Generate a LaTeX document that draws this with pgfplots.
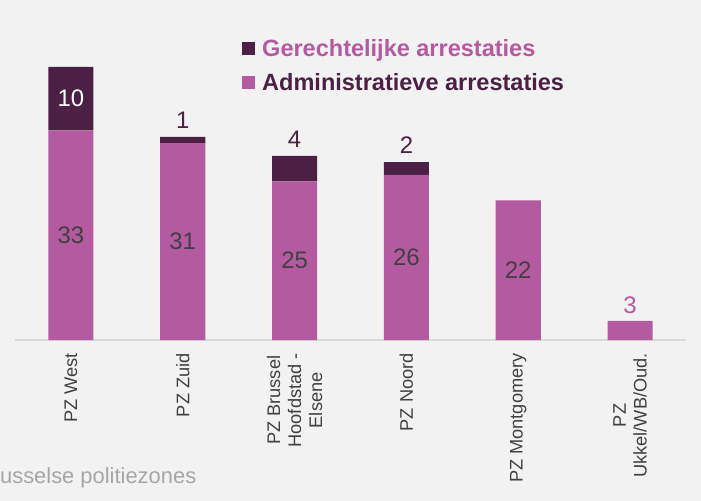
\documentclass[border=0pt]{standalone}
\usepackage{pgfplots}
\pgfplotsset{compat=1.18}
\usepackage{pgfplotstable}
\usepackage{fontspec}
\setmainfont{Liberation Sans}

\definecolor{adm}{RGB}{180,90,160}
\definecolor{ger}{RGB}{75,32,68}
\definecolor{bg}{RGB}{242,242,242}
\definecolor{lbl}{RGB}{64,64,64}
\definecolor{axisgray}{RGB}{217,217,217}
\definecolor{titlegray}{RGB}{166,166,166}

% arrestaties per politiezone
\pgfplotstableread{
x adm ger
0 33 10
1 31 1
2 25 4
3 26 2
4 22 0
5 3 0
}\arrdata

\pgfplotsset{base/.style={scale only axis, width=671bp, height=317.5bp,
    xmin=-0.5, xmax=5.5, ymin=0, ymax=50}}

\begin{document}
\begin{tikzpicture}
\fill[bg] (-15bp,-161bp) rectangle (686bp,340bp);
\begin{axis}[base,
    ybar stacked, bar width=45bp,
    axis y line=none, axis x line=bottom,
    x axis line style={-, draw=axisgray, line width=2bp},
    ytick=\empty,
    xtick={0,1,2,3,4,5},
    xticklabels={PZ West, PZ Zuid, {PZ Brussel\\Hoofdstad -\\Elsene}, PZ Noord, PZ Montgomery, {PZ\\Ukkel/WB/Oud.}},
    major tick length=0pt,
    xticklabel style={yshift=-13bp, rotate=90, anchor=east, align=center, inner sep=0pt,
        font=\fontsize{18.3}{21}\selectfont, text=lbl},
    reverse legend,
    legend cell align=left,
    legend image code/.code={\fill[#1] (0bp,-4.25bp) rectangle (13bp,8.75bp);},
    legend style={at={(rel axis cs:0.3379,0.9465)}, anchor=north west,
        draw=none, fill=none, inner sep=0pt, outer sep=0pt,
        font=\fontsize{23.6}{27}\selectfont\bfseries,
        row sep=12.5bp,
        nodes={inner sep=0pt, text height=17bp, text depth=5bp},
        /tikz/every odd column/.append style={column sep=7.5bp}},
]
\addplot[fill=adm, draw=none] table[x=x, y=adm] {\arrdata};
\addplot[fill=ger, draw=none] table[x=x, y=ger] {\arrdata};
\legend{\textcolor{ger}{Administratieve arrestaties}, \textcolor{adm}{Gerechtelijke arrestaties}}
\end{axis}

% data labels
\begin{axis}[base, hide axis,
    point meta=explicit symbolic, nodes near coords,
    every node near coord/.append style={font=\fontsize{24}{24}\selectfont, inner sep=0pt}]
\addplot[only marks, mark=none, skip coords between index={5}{6},
    every node near coord/.append style={text=lbl, anchor=center}]
    table[x=x, y expr=\thisrow{adm}/2, meta=adm] {\arrdata};
\addplot[only marks, mark=none, skip coords between index={1}{6},
    every node near coord/.append style={text=white, anchor=center}]
    table[x=x, y expr=\thisrow{adm}+\thisrow{ger}/2, meta=ger] {\arrdata};
\addplot[only marks, mark=none, skip coords between index={0}{1}, skip coords between index={4}{6},
    every node near coord/.append style={text=ger, anchor=base, yshift=8.5bp}]
    table[x=x, y expr=\thisrow{adm}+\thisrow{ger}, meta=ger] {\arrdata};
\addplot[only marks, mark=none, skip coords between index={0}{5},
    every node near coord/.append style={text=adm, anchor=base, yshift=7.5bp}]
    table[x=x, y=adm, meta=adm] {\arrdata};
\end{axis}

% as título, links afgesneden zoals in het origineel
\node[anchor=base west, inner sep=0pt, text=titlegray, font=\fontsize{22}{22}\selectfont]
    at (-37bp,-143bp) {Brusselse politiezones};
\pgfresetboundingbox
\useasboundingbox (-15bp,-161bp) rectangle (686bp,340bp);
\end{tikzpicture}
\end{document}
